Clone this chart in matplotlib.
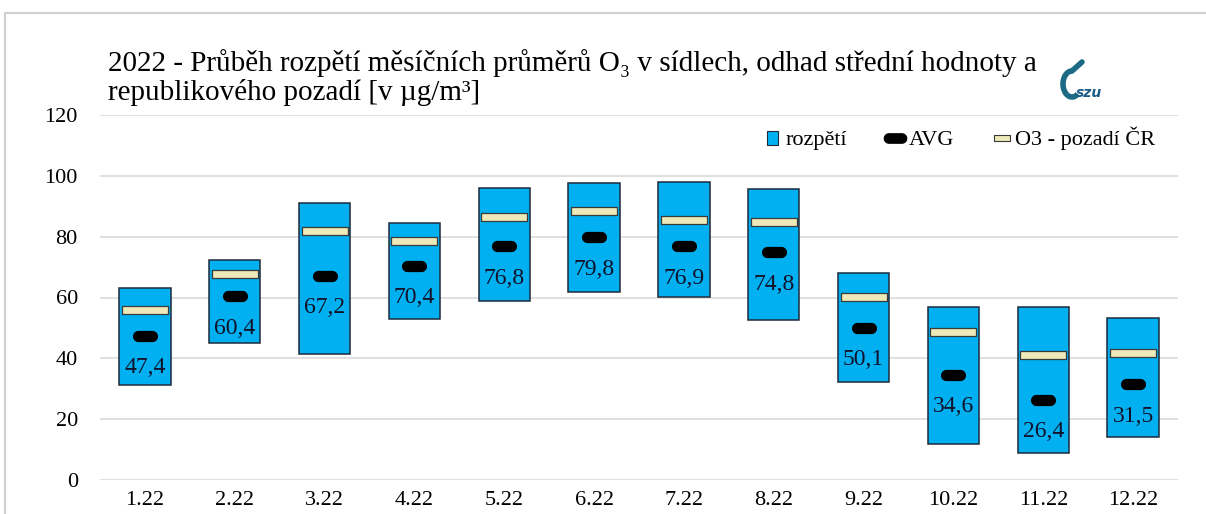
import numpy as np
import matplotlib
matplotlib.use("Agg")
import matplotlib.pyplot as plt
from matplotlib.path import Path
from matplotlib.patches import Patch, Rectangle, Arc
from matplotlib.lines import Line2D

plt.rcParams['font.family'] = ['Liberation Serif', 'DejaVu Serif']

# data
mesice = ["1.22", "2.22", "3.22", "4.22", "5.22", "6.22",
          "7.22", "8.22", "9.22", "10.22", "11.22", "12.22"]
rozpeti_min = [31.1, 45.0, 41.4, 53.0, 59.0, 61.9, 60.2, 52.7, 32.2, 11.8, 8.9, 14.3]
rozpeti_max = [63.1, 72.4, 91.1, 84.6, 96.0, 97.8, 98.0, 95.6, 68.0, 56.8, 57.0, 53.4]
avg = [47.4, 60.4, 67.2, 70.4, 76.8, 79.8, 76.9, 74.8, 50.1, 34.6, 26.4, 31.5]
pozadi = [55.8, 67.6, 81.9, 78.7, 86.5, 88.4, 85.4, 84.9, 60.1, 48.7, 41.0, 41.9]

modra = '#00B0F0'
bezova = '#EDE9B9'

# tvary markeru: zaoblena "pilulka" pro AVG, plochy obdelnik pro pozadi
t = np.linspace(-np.pi / 2, np.pi / 2, 20)
prava = np.column_stack([0.7 + 0.5 * np.cos(t), 0.5 * np.sin(t)])
leva = np.column_stack([-0.7 - 0.5 * np.cos(t), -0.5 * np.sin(t)])
pill = Path(np.vstack([prava, leva, prava[:1]]), closed=True)
obdelnik = Path([(-2.9, -0.5), (2.9, -0.5), (2.9, 0.5), (-2.9, 0.5), (-2.9, -0.5)], closed=True)
maly_obdelnik = Path([(-1.2, -0.5), (1.2, -0.5), (1.2, 0.5), (-1.2, 0.5), (-1.2, -0.5)], closed=True)

fig = plt.figure(figsize=(12.06, 5.14), dpi=100)
ax = fig.add_axes([100 / 1206, 34 / 514, 1078 / 1206, 365 / 514])

x = np.arange(len(mesice))
vyska = np.array(rozpeti_max) - np.array(rozpeti_min)
ax.bar(x, vyska, bottom=rozpeti_min, width=0.57, color=modra,
       edgecolor='#1E2B3C', linewidth=1.1, zorder=2)
ax.plot(x, pozadi, linestyle='none', marker=obdelnik, markersize=33,
        markerfacecolor=bezova, markeredgecolor='#3A3A3A', markeredgewidth=0.9, zorder=3)
ax.plot(x, avg, linestyle='none', marker=pill, markersize=17,
        color='black', zorder=4)

for xi, v in zip(x, avg):
    ax.annotate(f"{v:.1f}".replace('.', ','), (xi, v), xytext=(0, -23),
                textcoords='offset points', ha='center', va='center',
                fontsize=17, color='#10122A', zorder=5)

ax.set_xlim(-0.5, 11.5)
ax.set_ylim(0, 120)
ax.set_yticks(range(0, 121, 20))
ax.set_xticks(x)
ax.set_xticklabels(mesice)
ax.tick_params(axis='both', length=0, labelsize=16, colors='black')
ax.tick_params(axis='y', pad=16)
ax.tick_params(axis='x', pad=8)
ax.grid(axis='y', color='#DADADA', linewidth=1.2, zorder=0)
ax.set_axisbelow(True)
for s in ax.spines.values():
    s.set_visible(False)

handles = [
    Patch(facecolor=modra, edgecolor='#1E2B3C', linewidth=0.8),
    Line2D([], [], linestyle='none', marker=pill, markersize=16, color='black'),
    Line2D([], [], linestyle='none', marker=maly_obdelnik, markersize=11,
           markerfacecolor=bezova, markeredgecolor='#3A3A3A', markeredgewidth=0.8),
]
ax.legend(handles, ["rozpětí", "AVG", "O3 - pozadí ČR"], ncol=3, frameon=False,
          loc='center right', bbox_to_anchor=(0.987, 0.935), fontsize=16,
          handlelength=0.5, handleheight=0.6, handletextpad=0.35,
          columnspacing=1.9, borderaxespad=0)

fig.text(108 / 1206, 1 - 49 / 514,
         "2022 - Průběh rozpětí měsíčních průměrů O₃ v sídlech, odhad střední hodnoty a\n"
         "republikového pozadí [v µg/m³]",
         ha='left', va='top', fontsize=21, linespacing=1.12)

# ramecek grafu
fig.patches.append(Rectangle((5 / 1206, -0.1), 1.2, 1.1 - 13 / 514,
                             transform=fig.transFigure, fill=False,
                             edgecolor='#D0D0D0', linewidth=1.5))

# logo SZU (hrube)
logo = fig.add_axes([1058 / 1206, 1 - 102 / 514, 52 / 1206, 44 / 514])
logo.set_xlim(0, 52)
logo.set_ylim(0, 44)
logo.axis('off')
logo.add_patch(Arc((14, 18), 18, 26, theta1=90, theta2=300, color='#1C6A84', linewidth=4))
logo.plot([14, 24], [31, 40], color='#1C6A84', linewidth=4, solid_capstyle='round')
logo.text(18, 9, "szu", fontsize=10, fontweight='bold', style='italic',
          color='#1C5C86', family='DejaVu Sans', ha='left', va='center')

fig.savefig("out.png", dpi=100)
